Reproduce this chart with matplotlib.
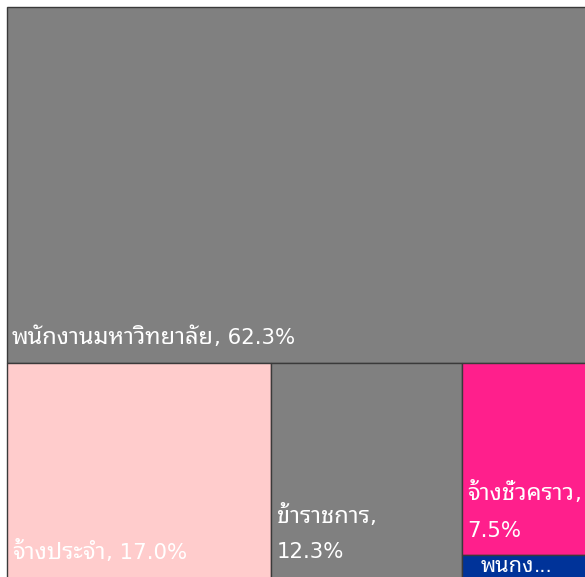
import matplotlib
matplotlib.use("Agg")
import matplotlib.pyplot as plt
from matplotlib.patches import Rectangle

labels = ["พนักงานมหาวิทยาลัย", "จ้างประจำ", "ข้าราชการ", "จ้างชั่วคราว", "พนักงานราชการ"]
values = [62.3, 17.0, 12.3, 7.5, 0.9]
colors = ["#808080", "#FFCCCC", "#808080", "#FF1F8C", "#003399"]

W, H = 585, 577
fig = plt.figure(figsize=(W / 100, H / 100), dpi=100)
ax = fig.add_axes([0, 0, 1, 1])
ax.set_xlim(0, W)
ax.set_ylim(H, 0)
ax.axis("off")

x0, y0 = 7, 7
x1, y1 = 592, 578
total = sum(values)
area_w = x1 - x0
area_h = y1 - y0

top_h = area_h * values[0] / total
rects = [(x0, y0, area_w, top_h)]
bot_y = y0 + top_h
bot_h = y1 - bot_y
cx = x0
for v in values[1:3]:
    w = area_w * area_h * v / total / bot_h
    rects.append((cx, bot_y, w, bot_h))
    cx += w
last_w = x1 - cx
last_sum = values[3] + values[4]
h3 = bot_h * values[3] / last_sum
rects.append((cx, bot_y, last_w, h3))
rects.append((cx, bot_y + h3, last_w, bot_h - h3))

for (rx, ry, rw, rh), c in zip(rects, colors):
    ax.add_patch(Rectangle((rx, ry), rw, rh, facecolor=c, edgecolor="#3a3a3a", linewidth=1))

renderer = fig.canvas.get_renderer()
THAI = dict(family=["Noto Sans Thai Looped", "DejaVu Sans"], fontsize=17)
LATN = dict(family=["DejaVu Sans", "Noto Sans Thai Looped"], fontsize=15.3)

def draw(x, y, segments, size_scale=1.0):
    for s, style in segments:
        st = dict(style)
        st["fontsize"] = st["fontsize"] * size_scale
        t = ax.text(x, y, s, color="white", va="baseline", ha="left", **st)
        bb = t.get_window_extent(renderer=renderer)
        x += bb.width * 100 / fig.dpi

def bottom(i):
    return rects[i][1] + rects[i][3]

draw(rects[0][0] + 5, bottom(0) - 19, [(labels[0], THAI), (f", {values[0]:.1f}%", LATN)])
draw(rects[1][0] + 5, bottom(1) - 19, [(labels[1], THAI), (f", {values[1]:.1f}%", LATN)])
draw(rects[2][0] + 6, bottom(2) - 55, [(labels[2], THAI), (",", LATN)])
draw(rects[2][0] + 6, bottom(2) - 20, [(f"{values[2]:.1f}%", LATN)])
draw(rects[3][0] + 6, bottom(3) - 55, [(labels[3], THAI), (",", LATN)])
draw(rects[3][0] + 6, bottom(3) - 18, [(f"{values[3]:.1f}%", LATN)])
draw(rects[4][0] + 19, rects[4][1] + 17, [("พนกง", THAI), ("...", LATN)], size_scale=0.92)

fig.savefig("out.png", dpi=100)
